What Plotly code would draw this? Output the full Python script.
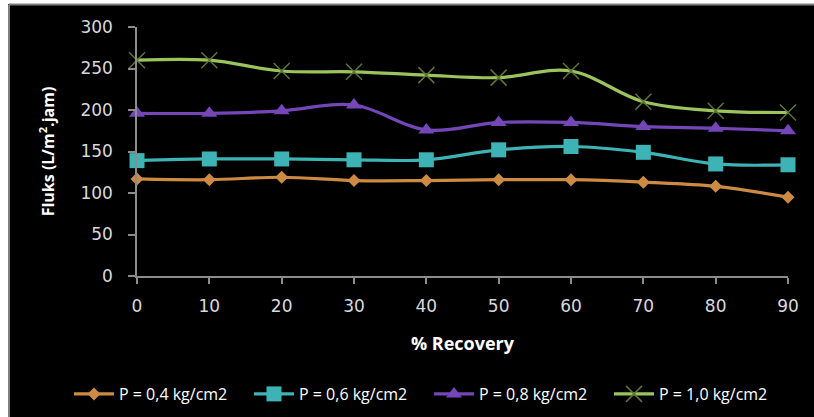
import plotly.graph_objects as go

recovery = [0, 10, 20, 30, 40, 50, 60, 70, 80, 90]
p04 = [117, 116, 119, 115, 115, 116, 116, 113, 108, 95]
p06 = [139, 141, 141, 140, 140, 152, 156, 149, 135, 134]
p08 = [196, 196, 199, 206, 176, 185, 185, 180, 178, 175]
p10 = [260, 260, 247, 246, 242, 239, 247, 210, 199, 197]
names = ["P = 0,4 kg/cm2", "P = 0,6 kg/cm2", "P = 0,8 kg/cm2", "P = 1,0 kg/cm2"]
yticks = [0, 50, 100, 150, 200, 250, 300]

W, H = 814, 417
L, R, T, B = 137, 26, 27, 141
PW, PH = W - L - R, H - T - B

def px2x(px):
    return (px - L) / PW

def py2y(py):
    return (H - B - py) / PH

fig = go.Figure()
styles = [
    (p04, "#cc8a42", dict(symbol="diamond", size=10, color="#cc8a42")),
    (p06, "#3db3b5", dict(symbol="square", size=15, color="#3db3b5")),
    (p08, "#7446b8", dict(symbol="triangle-up", size=14, color="#7446b8")),
    (p10, "#9bc45f", dict(symbol="x-thin", size=16, color="#5f7534",
                          line=dict(color="#5f7534", width=1.5))),
]
for (vals, col, mk), nm in zip(styles, names):
    fig.add_trace(go.Scatter(
        x=recovery, y=vals, name=nm, mode="lines+markers",
        line=dict(color=col, width=3.2, shape="spline", smoothing=1),
        marker=mk, cliponaxis=False,
    ))

axis_col = "#8c8c8c"
fig.update_layout(
    width=W, height=H,
    margin=dict(l=L, r=R, t=T, b=B, autoexpand=False),
    paper_bgcolor="#000000", plot_bgcolor="#000000",
    font=dict(family="DejaVu Sans", color="#d9d9d9", size=15),
    showlegend=True,
    legend=dict(orientation="h", xref="paper", yref="paper",
                x=px2x(69), xanchor="left",
                y=py2y(394), yanchor="middle",
                font=dict(family="Open Sans", size=16, color="#ffffff"),
                itemwidth=40,
                entrywidth=125, entrywidthmode="pixels",
                bgcolor="rgba(0,0,0,0)"),
    xaxis=dict(range=[0, 90], tickvals=recovery, showgrid=False, zeroline=False,
               showline=True, linecolor=axis_col, linewidth=1.5,
               ticks="outside", ticklen=6, tickcolor=axis_col, tickwidth=1.5,
               ticklabelstandoff=8,
               tickfont=dict(family="DejaVu Sans", size=17, color="#d9d9d9"),
               title=dict(text="<b>% Recovery</b>", standoff=22,
                          font=dict(family="Open Sans", size=18, color="#ffffff"))),
    yaxis=dict(range=[0, 300], tickvals=yticks, showgrid=False, zeroline=False,
               showline=True, linecolor=axis_col, linewidth=1.5,
               ticks="outside", ticklen=7, tickcolor=axis_col, tickwidth=1.5,
               ticklabelstandoff=12,
               tickfont=dict(family="DejaVu Sans", size=17, color="#d9d9d9"),
               title=dict(text="<b>Fluks (L/m<sup>2</sup>.jam)</b>", standoff=22,
                          font=dict(family="Open Sans", size=16, color="#ffffff"))),
    shapes=[
        dict(type="rect", xref="paper", yref="paper",
             x0=px2x(-5), x1=px2x(W + 5), y0=py2y(4), y1=py2y(-5),
             fillcolor="#ffffff", line=dict(width=0), layer="above"),
        dict(type="rect", xref="paper", yref="paper",
             x0=px2x(-5), x1=px2x(8), y0=py2y(H + 5), y1=py2y(-5),
             fillcolor="#ffffff", line=dict(width=0), layer="above"),
        dict(type="line", xref="paper", yref="paper",
             x0=px2x(9), x1=px2x(W + 5), y0=py2y(4.5), y1=py2y(4.5),
             line=dict(color="#7f7f7f", width=2), layer="above"),
        dict(type="line", xref="paper", yref="paper",
             x0=px2x(9), x1=px2x(9), y0=py2y(4.5), y1=py2y(H + 5),
             line=dict(color="#7f7f7f", width=2), layer="above"),
    ],
)

fig.write_html("out.html")
